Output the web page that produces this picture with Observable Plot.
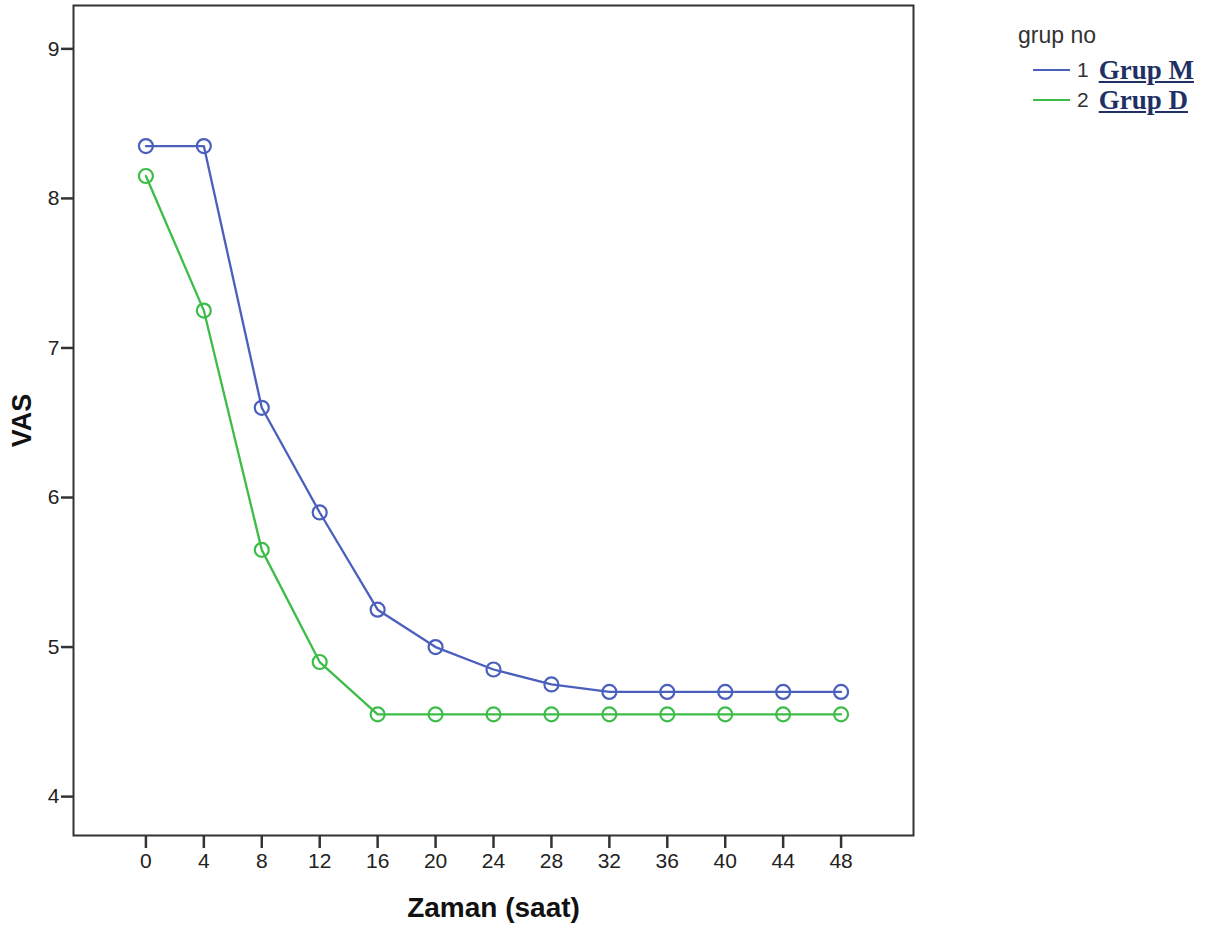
<!DOCTYPE html>
<html>
<head>
<meta charset="utf-8">
<script src="https://cdn.jsdelivr.net/npm/d3@7"></script>
<script src="https://cdn.jsdelivr.net/npm/@observablehq/plot@0.6"></script>
<style>
  body { margin: 0; background: #fff; font-family: "Liberation Sans", Arial, sans-serif; }
  #wrap { position: relative; width: 1207px; height: 932px; }
  #legend { position: absolute; left: 1018px; top: 20px; color: #333; }
  #legend .title { font-size: 23px; line-height: 30px; margin-bottom: 5px; }
  #legend .row { display: flex; align-items: center; height: 30px; margin-left: 15px; }
  #legend .sw { width: 37px; height: 0; border-top: 2px solid; margin-right: 7px; }
  #legend .num { font-size: 21px; margin-right: 10px; }
  #legend .name { font-family: "Liberation Serif", "Times New Roman", serif; font-weight: bold; font-size: 27px; color: #1f3164; text-decoration: underline; }
</style>
</head>
<body>
<div id="wrap"></div>
<script>
const hours = [0, 4, 8, 12, 16, 20, 24, 28, 32, 36, 40, 44, 48];
const grupM = [8.35, 8.35, 6.6, 5.9, 5.25, 5.0, 4.85, 4.75, 4.7, 4.7, 4.7, 4.7, 4.7];
const grupD = [8.15, 7.25, 5.65, 4.9, 4.55, 4.55, 4.55, 4.55, 4.55, 4.55, 4.55, 4.55, 4.55];
const groups = ["Grup M", "Grup D"];
const groupCodes = ["1", "2"];
const colors = ["#4b5fbd", "#3dbd48"];
const yTicks = [4, 5, 6, 7, 8, 9];

const data = [
  ...hours.map((h, i) => ({hour: h, vas: grupM[i], group: groups[0]})),
  ...hours.map((h, i) => ({hour: h, vas: grupD[i], group: groups[1]}))
];

const chart = Plot.plot({
  width: 1207,
  height: 932,
  marginLeft: 73,
  marginRight: 294,
  marginTop: 5,
  marginBottom: 97,
  style: {fontFamily: "'Liberation Sans', Arial, sans-serif", color: "#222", background: "transparent"},
  x: {domain: [-5, 53]},
  y: {domain: [3.74, 9.29]},
  color: {domain: groups, range: colors},
  marks: [
    Plot.frame({stroke: "#333", strokeWidth: 2}),
    Plot.axisX({ticks: hours, tickSize: 13, tickPadding: 5, fontSize: 21, label: null, strokeWidth: 2.5, stroke: "#333", tickFormat: d3.format("d")}),
    Plot.axisY({ticks: yTicks, tickSize: 12, tickPadding: 2, fontSize: 21, label: null, strokeWidth: 2.5, stroke: "#333", tickFormat: d3.format("d")}),
    Plot.line(data, {x: "hour", y: "vas", stroke: "group", strokeWidth: 2.3}),
    Plot.dot(data, {x: "hour", y: "vas", stroke: "group", r: 7, strokeWidth: 2.2, fill: "none"}),
    Plot.text(["VAS"], {frameAnchor: "left", dx: -51, rotate: -90, textAnchor: "middle", lineAnchor: "middle", fontSize: 27, fontWeight: "bold", fill: "#111"}),
    Plot.text(["Zaman (saat)"], {frameAnchor: "bottom", dy: 73, textAnchor: "middle", lineAnchor: "middle", fontSize: 28, fontWeight: "bold", fill: "#111"})
  ]
});

const wrap = document.getElementById("wrap");
wrap.appendChild(chart);

const legend = document.createElement("div");
legend.id = "legend";
legend.innerHTML = `<div class="title">grup no</div>` + groups.map((g, i) =>
  `<div class="row"><span class="sw" style="border-color:${colors[i]}"></span><span class="num">${groupCodes[i]}</span><span class="name">${g}</span></div>`
).join("");
wrap.appendChild(legend);
</script>
</body>
</html>
